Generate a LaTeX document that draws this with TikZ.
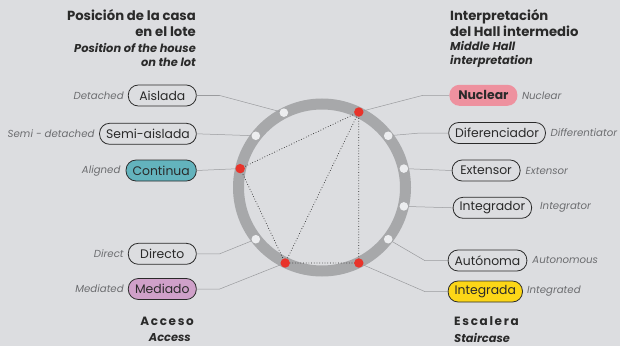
\documentclass[tikz,border=0pt]{standalone}
\usepackage{fontspec}
\setmainfont{Poppins}
\usetikzlibrary{positioning,calc}

\definecolor{bgcol}{HTML}{DCDDE0}
\definecolor{ringcol}{HTML}{A7A8AA}
\definecolor{holecol}{HTML}{ECEDEF}
\definecolor{hitcol}{HTML}{E8332A}
\definecolor{inkcol}{HTML}{2A2A2A}
\definecolor{glosscol}{HTML}{6C6D70}
\definecolor{leadcol}{HTML}{9A9B9E}
\definecolor{nuclearcol}{HTML}{EE919F}
\definecolor{continuacol}{HTML}{63B3BD}
\definecolor{mediadocol}{HTML}{CFA0C9}
\definecolor{integradacol}{HTML}{FCD617}

\begin{document}
\begin{tikzpicture}[
    x=1pt, y=1pt,
    font=\fontsize{12.4}{14}\selectfont,
    node distance=2pt,
    pill/.style={
        draw=inkcol,
        line width=0.8pt,
        rounded corners=10pt,
        minimum height=21pt,
        minimum width=68pt,
        inner xsep=6.5pt,
        inner ysep=0pt,
        text=inkcol
    },
    pick/.style={
        pill,
        fill=#1
    },
    gloss/.style={
        font=\fontsize{10.2}{12}\selectfont\itshape,
        text=glosscol,
        inner sep=2pt
    },
    head/.style={
        font=\fontsize{13.2}{15.7}\selectfont\bfseries,
        text=inkcol,
        inner sep=0pt
    },
    subhead/.style={
        font=\fontsize{11.4}{14}\selectfont\bfseries\itshape,
        text=inkcol,
        inner sep=0pt
    },
    hole/.style={circle, fill=holecol, minimum size=8.6pt, inner sep=0pt},
    hit/.style={circle, fill=hitcol, minimum size=9.4pt, inner sep=0pt},
    leader/.style={draw=leadcol, line width=0.5pt},
    chord/.style={draw=black!85, dotted, line width=0.7pt}
]
\useasboundingbox[fill=bgcol] (0,0) rectangle (620,346);

% headings
\node[head, align=right, anchor=east] (lhead) at (196,323.2) {Posición de la casa\\en el lote};
\node[subhead, align=right, anchor=east] (lsub) at (196,291.3) {Position of the house\\on the lot};
\node[head, align=left, anchor=west] (rhead) at (450,323.2) {Interpretación\\del Hall intermedio};
\node[subhead, align=left, anchor=west] (rsub) at (450,291.3) {Middle Hall\\interpretation};

% ring
\coordinate (c) at (322,158.5);
\draw[ringcol, line width=11pt] (c) circle[radius=83.5];

% left pills
\node[pill, anchor=east] (aislada) at (196.7,250.5) {Aislada};
\node[pill, anchor=east] (semi) at (196.7,212.2) {Semi-aislada};
\node[pick=continuacol, anchor=east] (continua) at (196.7,175.5) {Continua};
\node[pill, anchor=east] (directo) at (196.7,92.2) {Directo};
\node[pick=mediadocol, anchor=east] (mediado) at (196.7,57) {Mediado};

% right pills
\node[pick=nuclearcol, draw=none, anchor=west, font=\fontsize{12.4}{14}\selectfont\bfseries] (nuclear) at (449,250.7) {Nuclear};
\node[pill, anchor=west] (diferenciador) at (448.3,213) {Diferenciador};
\node[pill, anchor=west] (extensor) at (451.7,175.5) {Extensor};
\node[pill, anchor=west] (integrador) at (452.7,138.2) {Integrador};
\node[pill, anchor=west] (autonoma) at (447.7,85.5) {Autónoma};
\node[pick=integradacol, anchor=west] (integrada) at (447.7,54.5) {Integrada};

% english glosses
\node[gloss, left=of aislada] (detached) {Detached};
\node[gloss, left=2.5pt of semi] (semidet) {Semi - detached};
\node[gloss, left=3pt of continua] (aligned) {Aligned};
\node[gloss, left=of directo] (direct) {Direct};
\node[gloss, left=of mediado] (mediated) {Mediated};
\node[gloss, right=of nuclear] (nucleareng) {Nuclear};
\node[gloss, right=2.5pt of diferenciador] (differentiator) {Differentiator};
\node[gloss, right=3pt of extensor] (extensoreng) {Extensor};
\node[gloss, right=6pt of integrador] (integrator) {Integrator};
\node[gloss, right=3pt of autonoma] (autonomous) {Autonomous};
\node[gloss, right=of integrada] (integrated) {Integrated};

% bottom headings
\node[head, anchor=east, font=\fontsize{12}{14}\selectfont\bfseries\addfontfeature{LetterSpace=14}] (acceso) at (194,25) {Acceso};
\node[subhead, anchor=east] (access) at (191,8.3) {Access};
\node[head, anchor=west, font=\fontsize{12}{14}\selectfont\bfseries\addfontfeature{LetterSpace=14}] (escalera) at (454,25) {Escalera};
\node[subhead, anchor=west] (staircase) at (454,8.3) {Staircase};

% ring positions
\coordinate (pAis) at ($(c)+(117:84)$);
\coordinate (pSem) at ($(c)+(142:84)$);
\coordinate (pCon) at ($(c)+(167:84)$);
\coordinate (pDir) at ($(c)+(218:84)$);
\coordinate (pMed) at ($(c)+(244:84)$);
\coordinate (pNuc) at ($(c)+(64:84)$);
\coordinate (pDif) at ($(c)+(38:84)$);
\coordinate (pExt) at ($(c)+(13:84)$);
\coordinate (pInr) at ($(c)+(-13:84)$);
\coordinate (pAut) at ($(c)+(-38:84)$);
\coordinate (pIng) at ($(c)+(-64:84)$);

% leaders
\draw[leader] (aislada.east) -- ++(23,0) -- (pAis);
\draw[leader] (semi.east) -- (pSem);
\draw[leader] (continua.east) -- (pCon);
\draw[leader] (directo.east) -- ++(23,0) -- (pDir);
\draw[leader] (mediado.east) -- ++(23,0) -- (pMed);
\draw[leader] (nuclear.west) -- ++(-26,0) -- (pNuc);
\draw[leader] (diferenciador.west) -- ++(-28,0) -- (pDif);
\draw[leader] (extensor.west) -- (pExt);
\draw[leader] (integrador.west) -- (pInr);
\draw[leader] (autonoma.west) -- ++(-23,0) -- (pAut);
\draw[leader] (integrada.west) -- ++(-23,0) -- (pIng);

% chosen combination
\draw[chord] (pCon) -- (pNuc) -- (pIng) -- (pMed) -- (pCon);
\draw[chord] (pMed) -- (pNuc);

% dots
\node[hole] (dAis) at (pAis) {};
\node[hole] (dSem) at (pSem) {};
\node[hit] (dCon) at (pCon) {};
\node[hole] (dDir) at (pDir) {};
\node[hit] (dMed) at (pMed) {};
\node[hit] (dNuc) at (pNuc) {};
\node[hole] (dDif) at (pDif) {};
\node[hole] (dExt) at (pExt) {};
\node[hole] (dInr) at (pInr) {};
\node[hole] (dAut) at (pAut) {};
\node[hit] (dIng) at (pIng) {};

\end{tikzpicture}
\end{document}
